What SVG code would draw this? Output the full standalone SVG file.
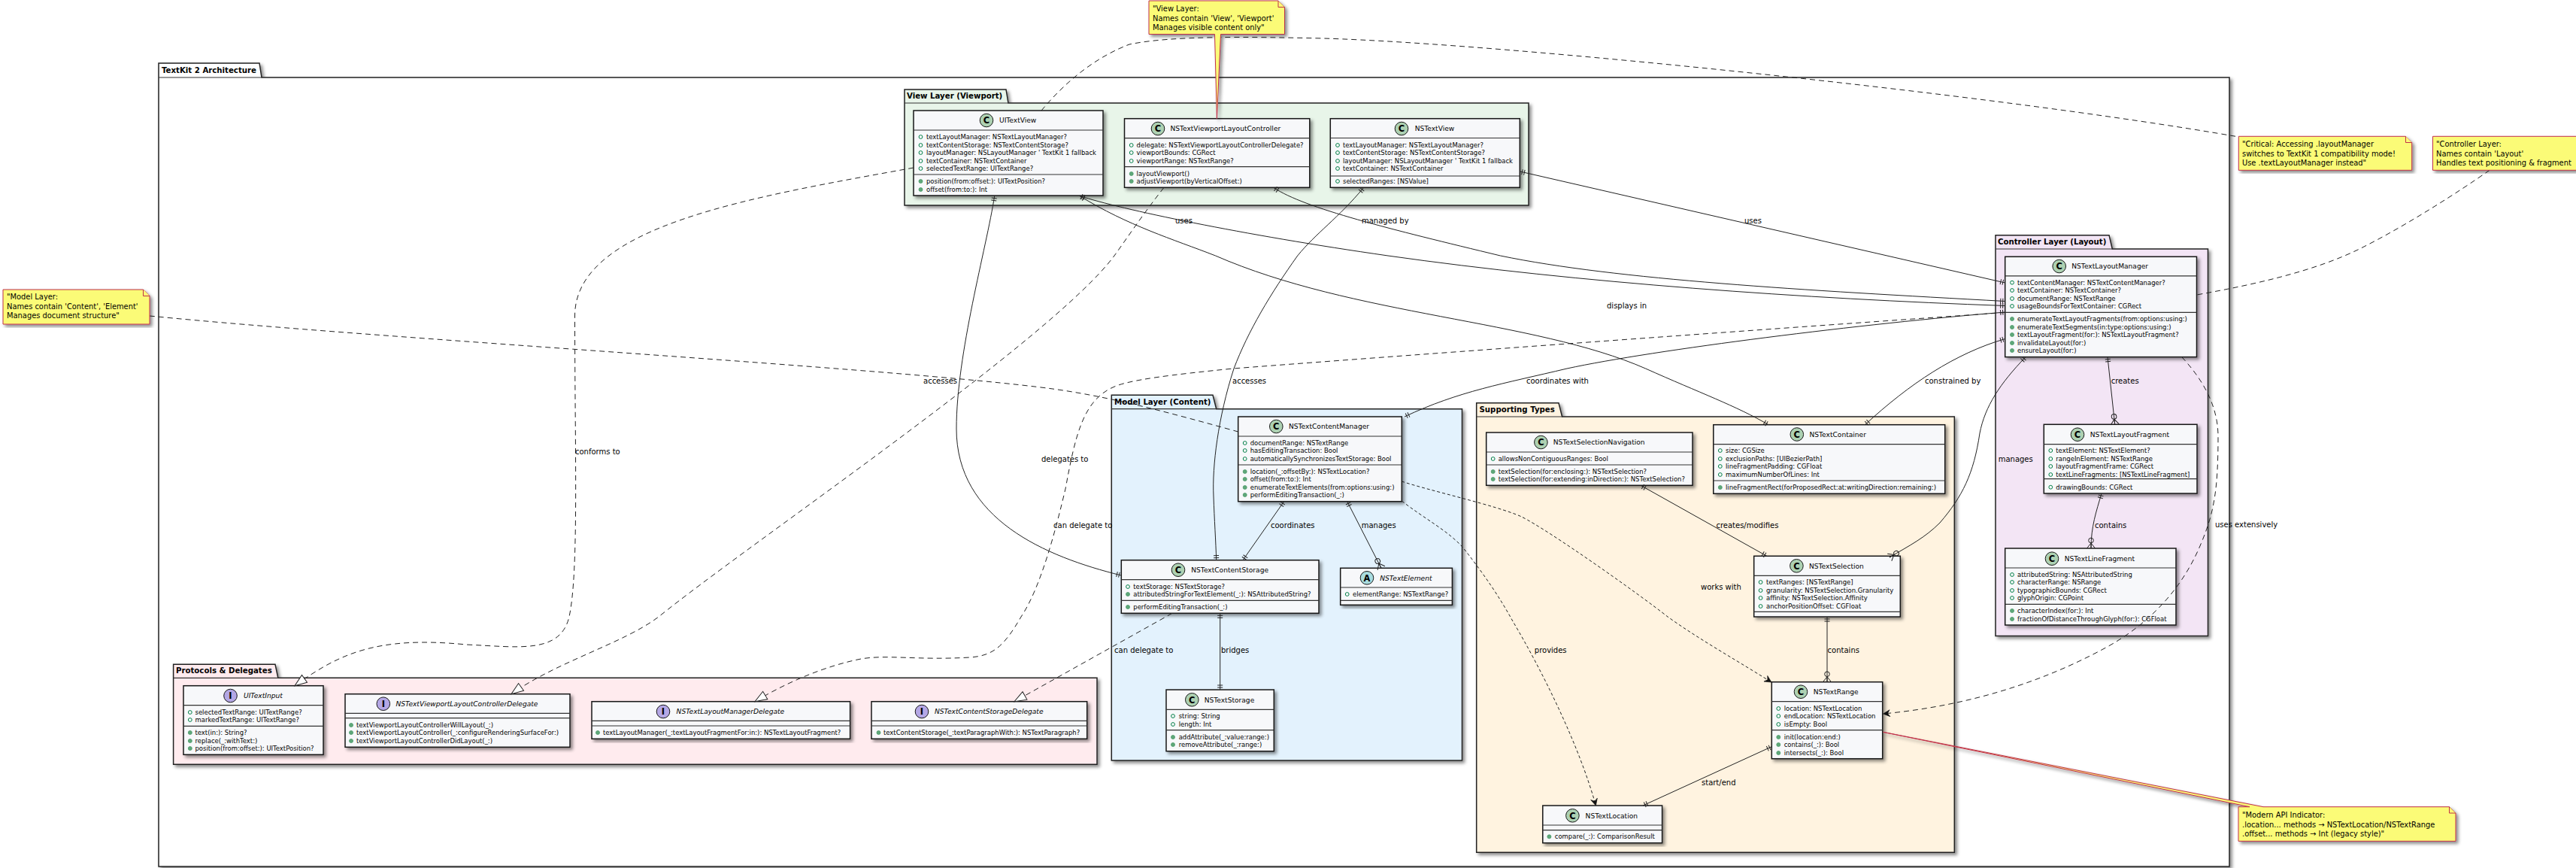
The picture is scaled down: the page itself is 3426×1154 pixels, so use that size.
<svg xmlns="http://www.w3.org/2000/svg" xmlns:xlink="http://www.w3.org/1999/xlink" width="3426" height="1154" viewBox="0 0 3426 1154">
<style>
text{font-family:"DejaVu Sans",sans-serif;fill:#000}
.r{font-size:8.46px}
.n{font-size:9.1px}
.i{font-size:9.1px;font-style:italic}
.t{font-size:10.2px;font-weight:700}
.l{font-size:10px}
.nt{font-size:9.9px}
.g{font-size:11.5px;font-weight:700;text-anchor:middle}
.pk{stroke:#222;stroke-width:1.5}
.box{fill:#F7F8FA;stroke:#181818;stroke-width:1.5}
.dv{stroke:#333;stroke-width:1.2;fill:none}
.sh{filter:url(#sh)}
.cc{fill:#ADD1B2;stroke:#181818;stroke-width:1}
.ci{fill:#B4A7E5;stroke:#181818;stroke-width:1}
.ca{fill:#A9DCDF;stroke:#181818;stroke-width:1}
.note{fill:#FBFB77;stroke:#C0304A;stroke-width:1}
.c{fill:none;stroke:#222;stroke-width:1}
.d{stroke-dasharray:7 5}
.dd{stroke-dasharray:4 3}
.one{marker-start:url(#one);marker-end:url(#one)}
.ocr{marker-start:url(#one);marker-end:url(#crow)}
.imp{marker-end:url(#impl)}
.opn{marker-end:url(#open)}
</style>
<defs>
<filter id="sh" x="-5%" y="-5%" width="110%" height="115%"><feDropShadow dx="3" dy="3" stdDeviation="2" flood-color="#000" flood-opacity="0.45"/></filter>
<g id="o"><circle r="2.4" fill="none" stroke="#038048" stroke-width="1"/></g>
<g id="f"><circle r="2.5" fill="#5FA87A" stroke="#4C9A6A" stroke-width="0.8"/></g>
<marker id="one" markerUnits="userSpaceOnUse" markerWidth="14" markerHeight="14" viewBox="-10 -7 14 14" refX="0" refY="0" orient="auto-start-reverse"><path d="M-3,-3.5V3.5M-6,-3.5V3.5" fill="none" stroke="#222" stroke-width="1"/></marker>
<marker id="crow" markerUnits="userSpaceOnUse" markerWidth="20" markerHeight="16" viewBox="-16 -8 20 16" refX="0" refY="0" orient="auto-start-reverse"><path d="M-7,0L0,-5.5M-7,0L0,5.5M-7,0H0" fill="none" stroke="#222" stroke-width="1"/><circle cx="-10.5" cy="0" r="3.3" fill="none" stroke="#222" stroke-width="1"/></marker>
<marker id="impl" markerUnits="userSpaceOnUse" markerWidth="20" markerHeight="16" viewBox="-18 -8 20 16" refX="0" refY="0" orient="auto"><path d="M0,0L-16,-6L-16,6Z" fill="#fff" stroke="#222" stroke-width="1"/></marker>
<marker id="open" markerUnits="userSpaceOnUse" markerWidth="14" markerHeight="12" viewBox="-11 -6 14 12" refX="0" refY="0" orient="auto"><path d="M0,0L-9,-4.5L-6,0L-9,4.5Z" fill="#111" stroke="#111" stroke-width="0.6"/></marker>
</defs>

<g id="packages">
<g id="pkg-root"><path class="pk sh" fill="#fff" d="M211,103V84H345L348,103H2965V1152H211Z"/><path class="dv" d="M211,103H348"/><text class="t" x="215" y="97">TextKit 2 Architecture</text></g>
<g id="pkg-view"><path class="pk sh" fill="#E8F5E9" d="M1203,137V119H1338L1341,137H2033V273H1203Z"/><path class="dv" d="M1203,137H1341"/><text class="t" x="1206" y="131">View Layer (Viewport)</text></g>
<g id="pkg-model"><path class="pk sh" fill="#E3F2FD" d="M1478.3,543.7V525.3H1613L1617.7,543.7H1944.5V1011H1478.3Z"/><path class="dv" d="M1478.3,543.7H1617.7"/><text class="t" x="1482" y="537.5">Model Layer (Content)</text></g>
<g id="pkg-support"><path class="pk sh" fill="#FFF3E0" d="M1963.7,554V535.7H2073L2077.6,554H2599.3V1133.3H1963.7Z"/><path class="dv" d="M1963.7,554H2077.6"/><text class="t" x="1967.5" y="548">Supporting Types</text></g>
<g id="pkg-controller"><path class="pk sh" fill="#F3E5F5" d="M2654,331V312.7H2805L2809.3,331H2936.5V845.5H2654Z"/><path class="dv" d="M2654,331H2809.3"/><text class="t" x="2657" y="325">Controller Layer (Layout)</text></g>
<g id="pkg-protocols"><path class="pk sh" fill="#FFEBEE" d="M230.6,901.3V883.3H366L369.8,901.3H1459V1016.3H230.6Z"/><path class="dv" d="M230.6,901.3H369.8"/><text class="t" x="234" y="895">Protocols &amp; Delegates</text></g>
</g>

<g id="UITextView"><rect class="box sh" x="1215" y="147" width="252" height="113"/><path class="dv" d="M1215,173H1467M1215,232H1467"/><circle class="cc" cx="1312" cy="160" r="8.8"/><text class="g" x="1312" y="164.2">C</text><text class="n" x="1329" y="163.3">UITextView</text>
<use href="#o" x="1224.5" y="182"/><text class="r" x="1232" y="185">textLayoutManager: NSTextLayoutManager?</text>
<use href="#o" x="1224.5" y="193"/><text class="r" x="1232" y="196">textContentStorage: NSTextContentStorage?</text>
<use href="#o" x="1224.5" y="203"/><text class="r" x="1232" y="206">layoutManager: NSLayoutManager ' TextKit 1 fallback</text>
<use href="#o" x="1224.5" y="214"/><text class="r" x="1232" y="217">textContainer: NSTextContainer</text>
<use href="#o" x="1224.5" y="224"/><text class="r" x="1232" y="227">selectedTextRange: UITextRange?</text>
<use href="#f" x="1224.5" y="241"/><text class="r" x="1232" y="244">position(from:offset:): UITextPosition?</text>
<use href="#f" x="1224.5" y="252"/><text class="r" x="1232" y="255">offset(from:to:): Int</text></g>

<g id="NSTextViewportLayoutController"><rect class="box sh" x="1495.5" y="157.7" width="246.3" height="91.6"/><path class="dv" d="M1495.5,183.7H1741.8M1495.5,221.7H1741.8"/><circle class="cc" cx="1540" cy="171" r="8.8"/><text class="g" x="1540" y="175.2">C</text><text class="n" x="1556.4" y="174.3">NSTextViewportLayoutController</text>
<use href="#o" x="1504.7" y="193"/><text class="r" x="1511.6" y="196">delegate: NSTextViewportLayoutControllerDelegate?</text>
<use href="#o" x="1504.7" y="203"/><text class="r" x="1511.6" y="206">viewportBounds: CGRect</text>
<use href="#o" x="1504.7" y="214"/><text class="r" x="1511.6" y="217">viewportRange: NSTextRange?</text>
<use href="#f" x="1504.7" y="231"/><text class="r" x="1511.6" y="234">layoutViewport()</text>
<use href="#f" x="1504.7" y="241"/><text class="r" x="1511.6" y="244">adjustViewport(byVerticalOffset:)</text></g>

<g id="NSTextView"><rect class="box sh" x="1769.3" y="157.7" width="252" height="91.6"/><path class="dv" d="M1769.3,183.5H2021.3M1769.3,234H2021.3"/><circle class="cc" cx="1864" cy="171" r="8.8"/><text class="g" x="1864" y="175.2">C</text><text class="n" x="1881.7" y="174.3">NSTextView</text>
<use href="#o" x="1779" y="193"/><text class="r" x="1786" y="196">textLayoutManager: NSTextLayoutManager?</text>
<use href="#o" x="1779" y="203"/><text class="r" x="1786" y="206">textContentStorage: NSTextContentStorage?</text>
<use href="#o" x="1779" y="214"/><text class="r" x="1786" y="217">layoutManager: NSLayoutManager ' TextKit 1 fallback</text>
<use href="#o" x="1779" y="224"/><text class="r" x="1786" y="227">textContainer: NSTextContainer</text>
<use href="#o" x="1779" y="241"/><text class="r" x="1786" y="244">selectedRanges: [NSValue]</text></g>

<g id="UITextInput"><rect class="box sh" x="244" y="911.7" width="186" height="91.6"/><path class="dv" d="M244,937.7H430M244,965.3H430"/><circle class="ci" cx="306.5" cy="925" r="8.8"/><text class="g" x="306.5" y="929.2">I</text><text class="i" x="324" y="928.3">UITextInput</text>
<use href="#o" x="252.8" y="947"/><text class="r" x="259.5" y="950">selectedTextRange: UITextRange?</text>
<use href="#o" x="252.8" y="957"/><text class="r" x="259.5" y="960">markedTextRange: UITextRange?</text>
<use href="#f" x="252.8" y="974"/><text class="r" x="259.5" y="977">text(in:): String?</text>
<use href="#f" x="252.8" y="985"/><text class="r" x="259.5" y="988">replace(_:withText:)</text>
<use href="#f" x="252.8" y="995"/><text class="r" x="259.5" y="998">position(from:offset:): UITextPosition?</text></g>

<g id="NSTextViewportLayoutControllerDelegate"><rect class="box sh" x="459" y="922.7" width="299" height="70.6"/><path class="dv" d="M459,948.3H758M459,954.7H758"/><circle class="ci" cx="509.8" cy="935.7" r="8.8"/><text class="g" x="509.8" y="939.9">I</text><text class="i" x="526.4" y="939">NSTextViewportLayoutControllerDelegate</text>
<use href="#f" x="467" y="964"/><text class="r" x="474" y="967">textViewportLayoutControllerWillLayout(_:)</text>
<use href="#f" x="467" y="974"/><text class="r" x="474" y="977">textViewportLayoutController(_:configureRenderingSurfaceFor:)</text>
<use href="#f" x="467" y="985"/><text class="r" x="474" y="988">textViewportLayoutControllerDidLayout(_:)</text></g>

<g id="NSTextLayoutManagerDelegate"><rect class="box sh" x="787" y="932.7" width="343.6" height="49.6"/><path class="dv" d="M787,958.3H1130.6M787,965H1130.6"/><circle class="ci" cx="882" cy="946" r="8.8"/><text class="g" x="882" y="950.2">I</text><text class="i" x="899.6" y="949.3">NSTextLayoutManagerDelegate</text>
<use href="#f" x="795" y="974"/><text class="r" x="802" y="977">textLayoutManager(_:textLayoutFragmentFor:in:): NSTextLayoutFragment?</text></g>

<g id="NSTextContentStorageDelegate"><rect class="box sh" x="1159" y="932.7" width="286.7" height="49.6"/><path class="dv" d="M1159,958.3H1445.7M1159,965H1445.7"/><circle class="ci" cx="1226" cy="946" r="8.8"/><text class="g" x="1226" y="950.2">I</text><text class="i" x="1243" y="949.3">NSTextContentStorageDelegate</text>
<use href="#f" x="1168.5" y="974"/><text class="r" x="1175" y="977">textContentStorage(_:textParagraphWith:): NSTextParagraph?</text></g>

<g id="NSTextContentManager"><rect class="box sh" x="1646.7" y="554" width="217.6" height="112.7"/><path class="dv" d="M1646.7,580H1864.3M1646.7,618H1864.3"/><circle class="cc" cx="1697.3" cy="567" r="8.8"/><text class="g" x="1697.3" y="571.2">C</text><text class="n" x="1714" y="570.3">NSTextContentManager</text>
<use href="#o" x="1655.7" y="589"/><text class="r" x="1662.7" y="592">documentRange: NSTextRange</text>
<use href="#o" x="1655.7" y="599"/><text class="r" x="1662.7" y="602">hasEditingTransaction: Bool</text>
<use href="#o" x="1655.7" y="610"/><text class="r" x="1662.7" y="613">automaticallySynchronizesTextStorage: Bool</text>
<use href="#f" x="1655.7" y="627"/><text class="r" x="1662.7" y="630">location(_:offsetBy:): NSTextLocation?</text>
<use href="#f" x="1655.7" y="637"/><text class="r" x="1662.7" y="640">offset(from:to:): Int</text>
<use href="#f" x="1655.7" y="648"/><text class="r" x="1662.7" y="651">enumerateTextElements(from:options:using:)</text>
<use href="#f" x="1655.7" y="658"/><text class="r" x="1662.7" y="661">performEditingTransaction(_:)</text></g>

<g id="NSTextContentStorage"><rect class="box sh" x="1491.3" y="744.7" width="262.7" height="70.6"/><path class="dv" d="M1491.3,770.7H1754M1491.3,798.3H1754"/><circle class="cc" cx="1567" cy="757.7" r="8.8"/><text class="g" x="1567" y="761.9">C</text><text class="n" x="1584.3" y="761">NSTextContentStorage</text>
<use href="#o" x="1500" y="780"/><text class="r" x="1507.3" y="783">textStorage: NSTextStorage?</text>
<use href="#f" x="1500" y="790"/><text class="r" x="1507.3" y="793">attributedStringForTextElement(_:): NSAttributedString?</text>
<use href="#f" x="1500" y="807"/><text class="r" x="1507.3" y="810">performEditingTransaction(_:)</text></g>

<g id="NSTextElement"><rect class="box sh" x="1782.7" y="755.3" width="148.7" height="49"/><path class="dv" d="M1782.7,781H1931.4M1782.7,798.3H1931.4"/><circle class="ca" cx="1818" cy="768.3" r="8.8"/><text class="g" x="1818" y="772.5">A</text><text class="i" x="1835.3" y="771.6">NSTextElement</text>
<use href="#o" x="1791.7" y="790"/><text class="r" x="1799" y="793">elementRange: NSTextRange?</text></g>

<g id="NSTextStorage"><rect class="box sh" x="1551" y="917" width="143.3" height="81.7"/><path class="dv" d="M1551,943.3H1694.3M1551,970.7H1694.3"/><circle class="cc" cx="1585.3" cy="930.3" r="8.8"/><text class="g" x="1585.3" y="934.5">C</text><text class="n" x="1601.7" y="933.6">NSTextStorage</text>
<use href="#o" x="1560" y="952"/><text class="r" x="1567.7" y="955">string: String</text>
<use href="#o" x="1560" y="963"/><text class="r" x="1567.7" y="966">length: Int</text>
<use href="#f" x="1560" y="980"/><text class="r" x="1567.7" y="983">addAttribute(_:value:range:)</text>
<use href="#f" x="1560" y="990"/><text class="r" x="1567.7" y="993">removeAttribute(_:range:)</text></g>

<g id="NSTextSelectionNavigation"><rect class="box sh" x="1976.7" y="575" width="274.3" height="70.3"/><path class="dv" d="M1976.7,601H2251M1976.7,618H2251"/><circle class="cc" cx="2049.4" cy="588" r="8.8"/><text class="g" x="2049.4" y="592.2">C</text><text class="n" x="2065.7" y="591.3">NSTextSelectionNavigation</text>
<use href="#o" x="1985.7" y="610"/><text class="r" x="1992.7" y="613">allowsNonContiguousRanges: Bool</text>
<use href="#f" x="1985.7" y="627"/><text class="r" x="1992.7" y="630">textSelection(for:enclosing:): NSTextSelection?</text>
<use href="#f" x="1985.7" y="637"/><text class="r" x="1992.7" y="640">textSelection(for:extending:inDirection:): NSTextSelection?</text></g>

<g id="NSTextContainer"><rect class="box sh" x="2278.8" y="564.7" width="307.9" height="91.6"/><path class="dv" d="M2278.8,590.7H2586.7M2278.8,639H2586.7"/><circle class="cc" cx="2389.8" cy="577.5" r="8.8"/><text class="g" x="2389.8" y="581.7">C</text><text class="n" x="2406.5" y="580.8">NSTextContainer</text>
<use href="#o" x="2287.8" y="599"/><text class="r" x="2295" y="602">size: CGSize</text>
<use href="#o" x="2287.8" y="610"/><text class="r" x="2295" y="613">exclusionPaths: [UIBezierPath]</text>
<use href="#o" x="2287.8" y="620"/><text class="r" x="2295" y="623">lineFragmentPadding: CGFloat</text>
<use href="#o" x="2287.8" y="631"/><text class="r" x="2295" y="634">maximumNumberOfLines: Int</text>
<use href="#f" x="2287.8" y="648"/><text class="r" x="2295" y="651">lineFragmentRect(forProposedRect:at:writingDirection:remaining:)</text></g>

<g id="NSTextSelection"><rect class="box sh" x="2332.7" y="739.3" width="194.6" height="80.7"/><path class="dv" d="M2332.7,765.3H2527.3M2332.7,813.3H2527.3"/><circle class="cc" cx="2389.4" cy="752.3" r="8.8"/><text class="g" x="2389.4" y="756.5">C</text><text class="n" x="2406" y="755.6">NSTextSelection</text>
<use href="#o" x="2341.6" y="774"/><text class="r" x="2349" y="777">textRanges: [NSTextRange]</text>
<use href="#o" x="2341.6" y="785"/><text class="r" x="2349" y="788">granularity: NSTextSelection.Granularity</text>
<use href="#o" x="2341.6" y="795"/><text class="r" x="2349" y="798">affinity: NSTextSelection.Affinity</text>
<use href="#o" x="2341.6" y="806"/><text class="r" x="2349" y="809">anchorPositionOffset: CGFloat</text></g>

<g id="NSTextRange"><rect class="box sh" x="2356.3" y="906.7" width="147.4" height="102"/><path class="dv" d="M2356.3,932.7H2503.7M2356.3,970.7H2503.7"/><circle class="cc" cx="2395" cy="919.7" r="8.8"/><text class="g" x="2395" y="923.9">C</text><text class="n" x="2411.8" y="923">NSTextRange</text>
<use href="#o" x="2365.3" y="942"/><text class="r" x="2372.7" y="945">location: NSTextLocation</text>
<use href="#o" x="2365.3" y="952"/><text class="r" x="2372.7" y="955">endLocation: NSTextLocation</text>
<use href="#o" x="2365.3" y="963"/><text class="r" x="2372.7" y="966">isEmpty: Bool</text>
<use href="#f" x="2365.3" y="980"/><text class="r" x="2372.7" y="983">init(location:end:)</text>
<use href="#f" x="2365.3" y="990"/><text class="r" x="2372.7" y="993">contains(_:): Bool</text>
<use href="#f" x="2365.3" y="1001"/><text class="r" x="2372.7" y="1004">intersects(_:): Bool</text></g>

<g id="NSTextLocation"><rect class="box sh" x="2051.8" y="1071" width="158.8" height="49.7"/><path class="dv" d="M2051.8,1097H2210.6M2051.8,1103.7H2210.6"/><circle class="cc" cx="2091.4" cy="1084.3" r="8.8"/><text class="g" x="2091.4" y="1088.5">C</text><text class="n" x="2108.6" y="1087.6">NSTextLocation</text>
<use href="#f" x="2060.4" y="1112.3"/><text class="r" x="2067.8" y="1115.3">compare(_:): ComparisonResult</text></g>

<g id="NSTextLayoutManager"><rect class="box sh" x="2666.7" y="341.3" width="254.8" height="133.3"/><path class="dv" d="M2666.7,366.8H2921.5M2666.7,415.3H2921.5"/><circle class="cc" cx="2738.7" cy="354" r="8.8"/><text class="g" x="2738.7" y="358.2">C</text><text class="n" x="2755.3" y="357.3">NSTextLayoutManager</text>
<use href="#o" x="2676" y="375.7"/><text class="r" x="2683" y="378.7">textContentManager: NSTextContentManager?</text>
<use href="#o" x="2676" y="386"/><text class="r" x="2683" y="389">textContainer: NSTextContainer?</text>
<use href="#o" x="2676" y="397"/><text class="r" x="2683" y="400">documentRange: NSTextRange</text>
<use href="#o" x="2676" y="407"/><text class="r" x="2683" y="410">usageBoundsForTextContainer: CGRect</text>
<use href="#f" x="2676" y="424"/><text class="r" x="2683" y="427">enumerateTextLayoutFragments(from:options:using:)</text>
<use href="#f" x="2676" y="435"/><text class="r" x="2683" y="438">enumerateTextSegments(in:type:options:using:)</text>
<use href="#f" x="2676" y="445"/><text class="r" x="2683" y="448">textLayoutFragment(for:): NSTextLayoutFragment?</text>
<use href="#f" x="2676" y="456"/><text class="r" x="2683" y="459">invalidateLayout(for:)</text>
<use href="#f" x="2676" y="466"/><text class="r" x="2683" y="469">ensureLayout(for:)</text></g>

<g id="NSTextLayoutFragment"><rect class="box sh" x="2718.3" y="564.3" width="203.7" height="91.7"/><path class="dv" d="M2718.3,590.7H2922M2718.3,636.7H2922"/><circle class="cc" cx="2763" cy="577.7" r="8.8"/><text class="g" x="2763" y="581.9">C</text><text class="n" x="2779.7" y="581">NSTextLayoutFragment</text>
<use href="#o" x="2727.3" y="599"/><text class="r" x="2734.3" y="602">textElement: NSTextElement?</text>
<use href="#o" x="2727.3" y="610"/><text class="r" x="2734.3" y="613">rangeInElement: NSTextRange</text>
<use href="#o" x="2727.3" y="620"/><text class="r" x="2734.3" y="623">layoutFragmentFrame: CGRect</text>
<use href="#o" x="2727.3" y="631"/><text class="r" x="2734.3" y="634">textLineFragments: [NSTextLineFragment]</text>
<use href="#o" x="2727.3" y="647.7"/><text class="r" x="2734.3" y="650.7">drawingBounds: CGRect</text></g>

<g id="NSTextLineFragment"><rect class="box sh" x="2666.7" y="729" width="227.3" height="102"/><path class="dv" d="M2666.7,755H2894M2666.7,803.3H2894"/><circle class="cc" cx="2729" cy="742.7" r="8.8"/><text class="g" x="2729" y="746.9">C</text><text class="n" x="2745.7" y="746">NSTextLineFragment</text>
<use href="#o" x="2676" y="764"/><text class="r" x="2683" y="767">attributedString: NSAttributedString</text>
<use href="#o" x="2676" y="774"/><text class="r" x="2683" y="777">characterRange: NSRange</text>
<use href="#o" x="2676" y="785"/><text class="r" x="2683" y="788">typographicBounds: CGRect</text>
<use href="#o" x="2676" y="795"/><text class="r" x="2683" y="798">glyphOrigin: CGPoint</text>
<use href="#f" x="2676" y="812"/><text class="r" x="2683" y="815">characterIndex(for:): Int</text>
<use href="#f" x="2676" y="823"/><text class="r" x="2683" y="826">fractionOfDistanceThroughGlyph(for:): CGFloat</text></g>

<g id="connectors">
<path class="c one" d="M1322.7,260.5C1312,330 1272,470 1272,570C1272,690 1390,740 1491.3,765"/>
<path class="c one" d="M1436,260.5C1490,278 1650,312 1846,340C2100,376 2400,397 2666.7,406.5"/>
<path class="c one" d="M1436,260.5C1500,300 1560,318 1616.6,340C1800,420 2040,425 2188.6,490C2260,522 2310,540 2352,564.7"/>
<path class="c one" d="M1694,249.5C1735,277 1850,305 1995.5,340C2150,372 2400,386 2666.7,400.5"/>
<path class="c one" d="M1813.5,249.5C1780,290 1750,310 1725.7,340C1690,390 1660,440 1641,490C1620,555 1612,620 1614,660C1615,690 1617,720 1617.7,744.7"/>
<path class="c one" d="M2021.5,228L2666.7,376"/>
<path class="c one" d="M2666.7,415C2480,430 2200,465 2084,490C2000,510 1940,520 1868,554"/>
<path class="c one" d="M2666.7,450.5C2600,470 2540,510 2480.4,564.7"/>
<path class="c ocr" d="M2694,474.6C2660,510 2640,540 2633,576C2625,630 2610,660 2580,695C2560,715 2540,725 2513,741"/>
<path class="c ocr" d="M2803,474.6L2812.7,564.3"/>
<path class="c ocr" d="M2795,656C2788,680 2781,700 2781,729"/>
<path class="c one" d="M1707.7,666.7L1653,744.7"/>
<path class="c ocr" d="M1791.7,666.7L1837,755.3"/>
<path class="c one" d="M1622.7,815.3V917"/>
<path class="c one" d="M2182.4,645.5L2349.8,739.3"/>
<path class="c ocr" d="M2430,820V906.7"/>
<path class="c one" d="M2356.3,992.7L2185,1071"/>
<path class="c d" d="M1385,147C1420,105 1460,75 1502,59C1560,47 1660,49 1760,51C2000,58 2650,125 2977.3,182"/>
<path class="c d" d="M199,420C500,450 1200,490 1400,517C1480,528 1560,550 1646.7,574"/>
<path class="c d" d="M3311,226.3C3270,255 3200,300 3140,330C3080,360 3000,378 2921.5,392"/>
<path class="c d imp" d="M1215,223C1000,262 764.5,300 764.5,420C764.5,600 770,760 757,820C745,870 690,860 620,857C500,845 450,870 392,911.7"/>
<path class="c d imp" d="M1548,249.3C1520,285 1500,315 1482,340C1400,450 1000,720 876,820C830,855 740,880 680,922.7"/>
<path class="c d imp" d="M2666.7,415.5C2400,434 1900,470 1640,490C1560,498 1500,505 1480,515C1440,533 1430,580 1417,650C1405,700 1385,780 1358,820C1335,860 1320,872 1290,874C1220,878 1180,870 1145,876C1100,885 1050,905 1004,932.7"/>
<path class="c d imp" d="M1559,815.3L1349,932.7"/>
<path class="c dd opn" d="M1864.3,640C1900,652 1990,672 2023,686.7C2060,705 2180,790 2218,820C2260,850 2300,872 2356,907"/>
<path class="c dd opn" d="M1864.3,666C1895,690 1925,705 1945.7,728C1975,765 1995,795 2012,826C2050,890 2100,990 2122.4,1071"/>
<path class="c d opn" d="M2901.7,474.6C2930,505 2950,540 2950,580C2950,650 2945,680 2928,721C2900,790 2850,835 2797,863C2700,915 2600,940 2504.5,949"/>
<text class="l" x="765" y="604">conforms to</text>
<text class="l" x="1228" y="510">accesses</text>
<text class="l" x="1563" y="296.5">uses</text>
<text class="l" x="1811" y="296.5">managed by</text>
<text class="l" x="2320" y="296.5">uses</text>
<text class="l" x="2137" y="410">displays in</text>
<text class="l" x="1639" y="510">accesses</text>
<text class="l" x="2030" y="509.5">coordinates with</text>
<text class="l" x="2560" y="509.5">constrained by</text>
<text class="l" x="2807.7" y="509.5">creates</text>
<text class="l" x="2657.7" y="614">manages</text>
<text class="l" x="2786" y="701.5">contains</text>
<text class="l" x="1385" y="614">delegates to</text>
<text class="l" x="1401" y="701.5">can delegate to</text>
<text class="l" x="1482" y="867.5">can delegate to</text>
<text class="l" x="1690" y="701.5">coordinates</text>
<text class="l" x="1810.7" y="701.5">manages</text>
<text class="l" x="1624" y="867.5">bridges</text>
<text class="l" x="2282.4" y="701.5">creates/modifies</text>
<text class="l" x="2262" y="783.5">works with</text>
<text class="l" x="2040.8" y="867.8">provides</text>
<text class="l" x="2430.6" y="867.8">contains</text>
<text class="l" x="2263" y="1043.8">start/end</text>
<text class="l" x="2946" y="700.5">uses extensively</text>
</g>

<g id="note-view"><path class="note sh" d="M1528,1H1700L1708.5,9.5V45.5H1623.5L1618.4,157.7L1615.5,45.5H1528Z"/><path class="note" d="M1700,1V9.5H1708.5"/><text class="nt" x="1533" y="14.5">"View Layer:</text><text class="nt" x="1533" y="27.5">Names contain 'View', 'Viewport'</text><text class="nt" x="1533" y="39.5">Manages visible content only"</text></g>
<g id="note-model"><path class="note sh" d="M4,385H190.5L199,393.5V431H4Z"/><path class="note" d="M190.5,385V393.5H199"/><text class="nt" x="9" y="398">"Model Layer:</text><text class="nt" x="9" y="411">Names contain 'Content', 'Element'</text><text class="nt" x="9" y="423">Manages document structure"</text></g>
<g id="note-critical"><path class="note sh" d="M2977.3,181.3H3199.5L3207.7,189.5V226.3H2977.3Z"/><path class="note" d="M3199.5,181.3V189.5H3207.7"/><text class="nt" x="2982" y="195">"Critical: Accessing .layoutManager</text><text class="nt" x="2982" y="208">switches to TextKit 1 compatibility mode!</text><text class="nt" x="2982" y="220">Use .textLayoutManager instead"</text></g>
<g id="note-controller"><path class="note sh" d="M3235.5,181.3H3440V226.3H3235.5Z"/><text class="nt" x="3240" y="195">"Controller Layer:</text><text class="nt" x="3240" y="208">Names contain 'Layout'</text><text class="nt" x="3240" y="220">Handles text positioning &amp; fragment</text></g>
<g id="note-modern"><path class="note sh" d="M2977,1072.7H2992L2504.5,973.3L3010,1072.7H3257.5L3266,1081V1118.3H2977Z"/><path class="note" d="M3257.5,1072.7V1081H3266"/><text class="nt" x="2982" y="1086.5">"Modern API Indicator:</text><text class="nt" x="2982" y="1099.5">.location... methods → NSTextLocation/NSTextRange</text><text class="nt" x="2982" y="1111.5">.offset... methods → Int (legacy style)"</text></g>
</svg>
